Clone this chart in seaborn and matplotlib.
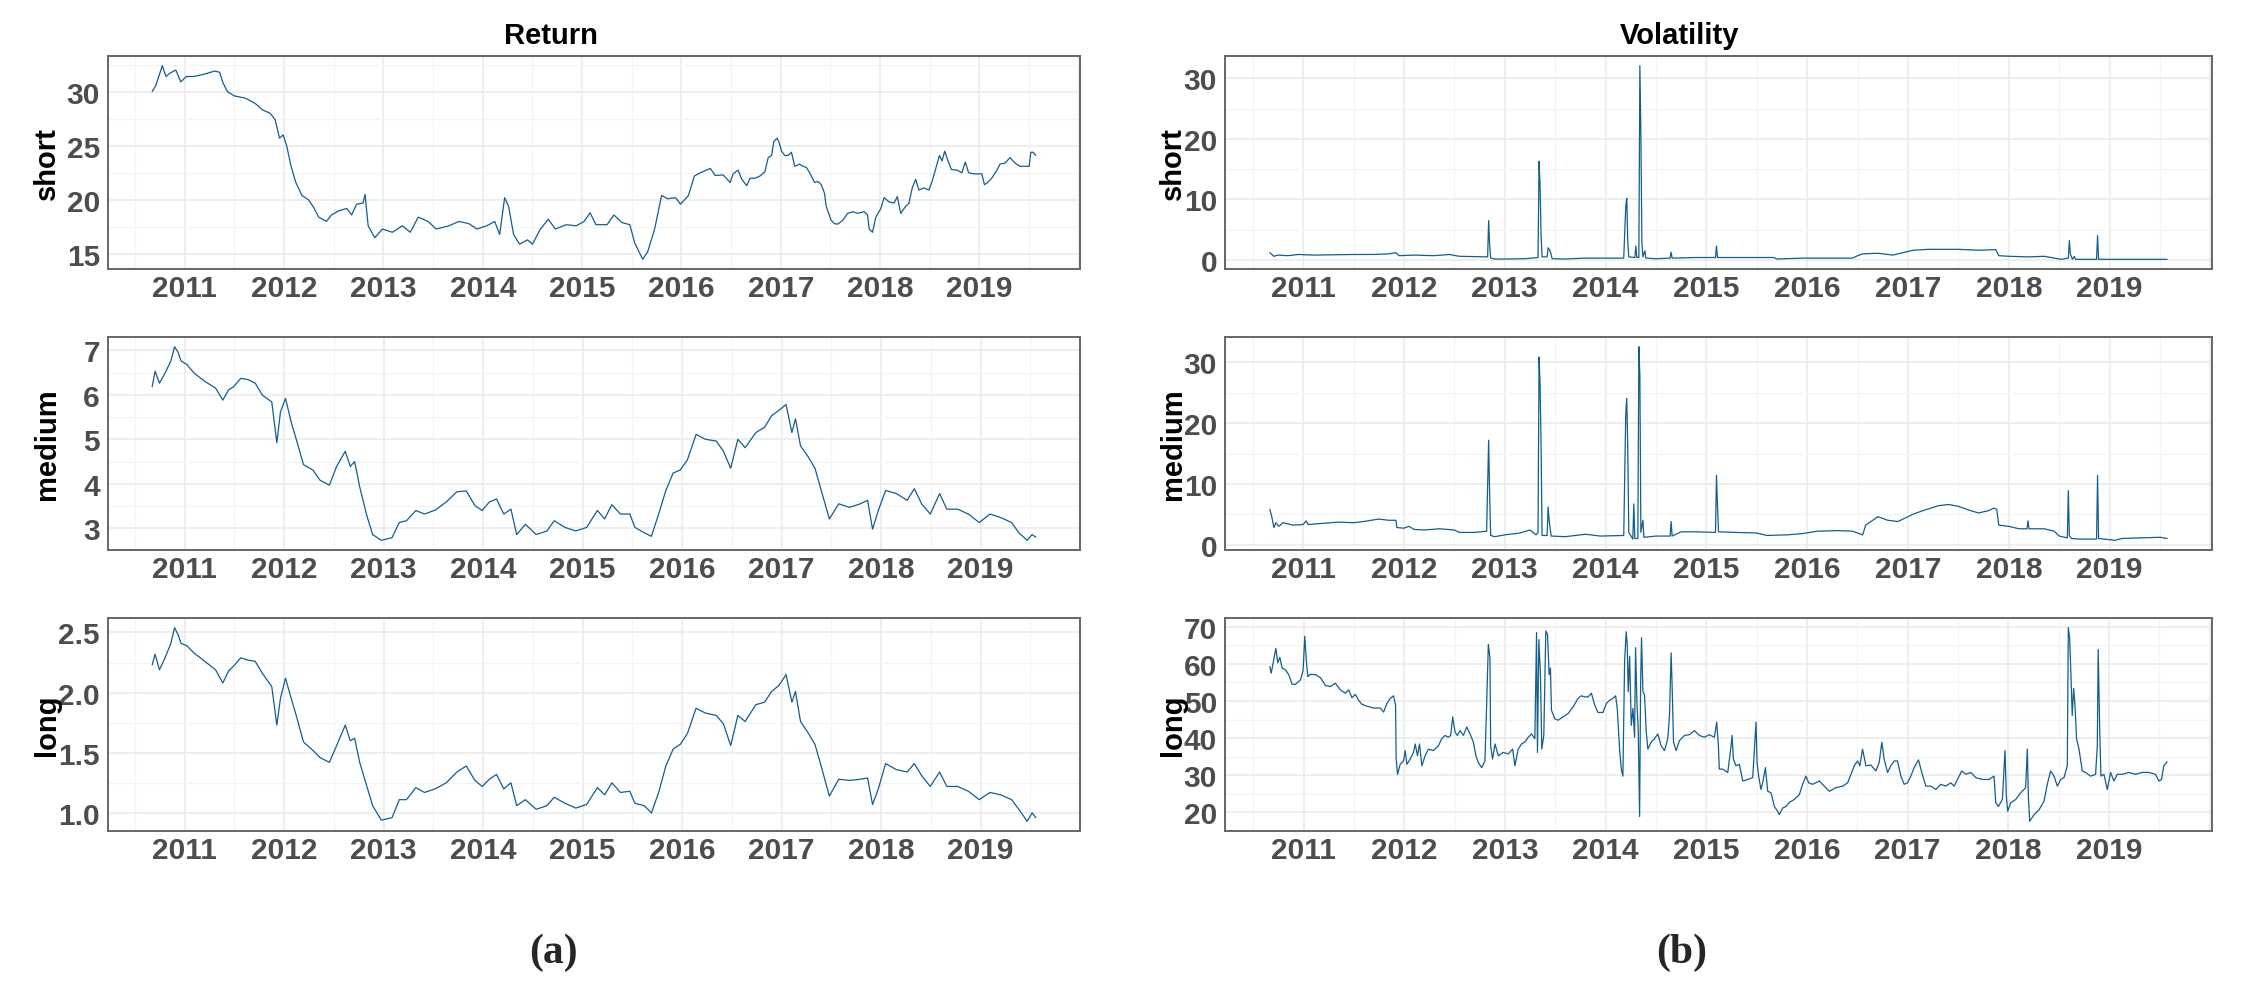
import numpy as np
import pandas as pd
import seaborn as sns
import matplotlib.pyplot as plt
from matplotlib.ticker import MultipleLocator, FormatStrFormatter

# style first, then fonts (set_style resets font.family)
sns.set_style("white")
plt.rcParams['font.family'] = ['Liberation Sans', 'DejaVu Sans']
plt.rcParams['font.weight'] = 'bold'

LINE = '#135e8c'

# ---- Return: short (decimal years / values)
ret_short_t = [2010.672, 2010.708, 2010.774, 2010.81, 2010.85, 2010.91, 2010.96, 2011.015, 2011.09, 2011.19,
               2011.30, 2011.35, 2011.385, 2011.43, 2011.50, 2011.61, 2011.71, 2011.785, 2011.86, 2011.91,
               2011.954, 2011.99, 2012.026, 2012.067, 2012.118, 2012.18, 2012.246, 2012.297, 2012.349, 2012.426,
               2012.477, 2012.554, 2012.63, 2012.68, 2012.73, 2012.795, 2012.815, 2012.846, 2012.913, 2012.99,
               2013.09, 2013.19, 2013.27, 2013.35, 2013.45, 2013.53, 2013.66, 2013.76, 2013.86, 2013.94,
               2014.04, 2014.12, 2014.17, 2014.22, 2014.26, 2014.31, 2014.37, 2014.45, 2014.50, 2014.58,
               2014.66, 2014.73, 2014.84, 2014.94, 2015.02, 2015.08, 2015.14, 2015.25, 2015.32, 2015.40,
               2015.48, 2015.53, 2015.61, 2015.66, 2015.73, 2015.80, 2015.86, 2015.94, 2015.99, 2016.07,
               2016.13,
               2016.19, 2016.29, 2016.34, 2016.42, 2016.49, 2016.52, 2016.57, 2016.607, 2016.657, 2016.69,
               2016.74, 2016.79, 2016.84, 2016.873, 2016.907, 2016.93, 2016.963, 2016.983, 2017.007, 2017.04,
               2017.073, 2017.107, 2017.14, 2017.19, 2017.223, 2017.257, 2017.29, 2017.34, 2017.373, 2017.407,
               2017.44, 2017.457, 2017.507, 2017.54, 2017.573, 2017.623, 2017.673, 2017.723, 2017.773, 2017.84,
               2017.873, 2017.89, 2017.923, 2017.957, 2018.007, 2018.04, 2018.09, 2018.14, 2018.173, 2018.207,
               2018.257, 2018.29, 2018.323, 2018.357, 2018.39, 2018.44, 2018.49, 2018.523, 2018.557, 2018.597,
               2018.623, 2018.65, 2018.683, 2018.717, 2018.773, 2018.823, 2018.857, 2018.89, 2018.94, 2018.99,
               2019.023, 2019.05, 2019.083, 2019.123, 2019.173, 2019.207, 2019.257, 2019.307, 2019.357, 2019.407,
               2019.457, 2019.50, 2019.517, 2019.54, 2019.567]
ret_short_v = [30.0, 30.56, 32.4, 31.4, 31.7, 32.0, 30.9, 31.4, 31.4, 31.6,
               31.9, 31.8, 30.8, 30.0, 29.6, 29.4, 28.9, 28.3, 28.0, 27.4,
               25.7, 26.0, 25.0, 23.2, 21.6, 20.4, 20.0, 19.3, 18.4, 18.0,
               18.6, 19.0, 19.2, 18.6, 19.6, 19.7, 20.5, 17.6, 16.5, 17.3,
               17.0, 17.6, 17.0, 18.4, 18.0, 17.3, 17.6, 18.0, 17.8, 17.3,
               17.6, 18.0, 16.8, 20.2, 19.4, 16.8, 15.9, 16.3, 15.9, 17.3,
               18.2, 17.3, 17.7, 17.6, 18.0, 18.8, 17.7, 17.7, 18.6, 17.9,
               17.7, 16.0, 14.5, 15.2, 17.3, 20.4, 20.1, 20.2, 19.6, 20.4,
               22.2,
               22.5, 22.9, 22.25, 22.3, 21.6, 22.4, 22.75, 21.9, 21.3, 22.0,
               22.0, 22.2, 22.6, 23.9, 24.1, 25.4, 25.7, 25.3, 24.5, 24.1,
               24.1, 24.4, 23.1, 23.3, 23.1, 23.0, 22.5, 21.6, 21.7, 21.4,
               20.6, 19.4, 18.1, 17.8, 17.75, 18.1, 18.75, 18.9, 18.75, 18.9,
               18.6, 17.3, 17.0, 18.4, 19.2, 20.2, 19.8, 19.7, 20.3, 18.75,
               19.4, 19.7, 21.1, 21.9, 20.9, 21.1, 20.9, 21.7, 22.8, 24.1,
               23.6, 24.5, 23.6, 22.8, 22.75, 22.5, 23.5, 22.5, 22.4, 22.4,
               22.4, 21.4, 21.6, 22.0, 22.7, 23.3, 23.4, 23.9, 23.4, 23.1,
               23.1, 23.1, 24.4, 24.4, 24.1]

# ---- Return: medium and long (read at the same dates)
ret_ml_t = [2010.674, 2010.703, 2010.747, 2010.804, 2010.862, 2010.899, 2010.935, 2010.964, 2011.022, 2011.094,
            2011.203, 2011.311, 2011.384, 2011.442, 2011.492, 2011.565, 2011.637, 2011.710, 2011.782, 2011.876,
            2011.927, 2011.963, 2012.014, 2012.072, 2012.122, 2012.195, 2012.289, 2012.361, 2012.455, 2012.528,
            2012.615, 2012.665, 2012.709, 2012.760, 2012.832, 2012.890, 2012.977, 2013.085, 2013.158, 2013.230,
            2013.324, 2013.411, 2013.520, 2013.629, 2013.737, 2013.831, 2013.918, 2013.991, 2014.063, 2014.135,
            2014.208, 2014.280, 2014.338, 2014.425, 2014.534, 2014.642, 2014.715, 2014.823, 2014.932, 2015.041,
            2015.149, 2015.222, 2015.294, 2015.381, 2015.475, 2015.526, 2015.620, 2015.692, 2015.765, 2015.837,
            2015.910, 2015.982, 2016.054, 2016.141, 2016.235, 2016.344, 2016.416, 2016.489, 2016.561, 2016.634,
            2016.742, 2016.829, 2016.901, 2016.974, 2017.046, 2017.104, 2017.140, 2017.191, 2017.264, 2017.336,
            2017.408, 2017.481, 2017.575, 2017.683, 2017.792, 2017.865, 2017.915, 2017.973, 2018.046, 2018.154,
            2018.263, 2018.335, 2018.408, 2018.495, 2018.589, 2018.661, 2018.770, 2018.878, 2018.987, 2019.096,
            2019.204, 2019.313, 2019.385, 2019.469, 2019.519, 2019.556]
ret_medium_v = [6.18, 6.53, 6.26, 6.49, 6.76, 7.08, 6.95, 6.76, 6.68, 6.49,
                6.30, 6.15, 5.88, 6.11, 6.18, 6.37, 6.34, 6.26, 5.99, 5.84,
                4.92, 5.61, 5.92, 5.38, 5.00, 4.43, 4.31, 4.08, 3.97, 4.39,
                4.73, 4.39, 4.50, 3.93, 3.28, 2.86, 2.73, 2.79, 3.13, 3.17,
                3.40, 3.32, 3.41, 3.59, 3.82, 3.84, 3.51, 3.40, 3.59, 3.66,
                3.32, 3.43, 2.86, 3.09, 2.86, 2.94, 3.17, 3.02, 2.94, 3.02,
                3.40, 3.21, 3.53, 3.32, 3.32, 3.02, 2.90, 2.82, 3.32, 3.85,
                4.24, 4.31, 4.54, 5.11, 5.00, 4.96, 4.73, 4.35, 5.00, 4.81,
                5.15, 5.27, 5.53, 5.65, 5.78, 5.15, 5.46, 4.85, 4.62, 4.35,
                3.78, 3.21, 3.55, 3.47, 3.55, 3.63, 2.98, 3.40, 3.85, 3.78,
                3.63, 3.89, 3.55, 3.32, 3.78, 3.43, 3.43, 3.32, 3.13, 3.32,
                3.24, 3.13, 2.90, 2.73, 2.86, 2.80]
ret_long_v = [2.23, 2.32, 2.19, 2.29, 2.41, 2.54, 2.48, 2.41, 2.39, 2.33,
              2.26, 2.19, 2.08, 2.18, 2.22, 2.29, 2.27, 2.26, 2.16, 2.05,
              1.73, 1.95, 2.12, 1.95, 1.81, 1.59, 1.52, 1.46, 1.42, 1.56,
              1.73, 1.60, 1.62, 1.42, 1.22, 1.06, 0.94, 0.96, 1.11, 1.11,
              1.21, 1.17, 1.20, 1.25, 1.34, 1.39, 1.27, 1.22, 1.28, 1.32,
              1.20, 1.25, 1.06, 1.11, 1.03, 1.06, 1.13, 1.08, 1.04, 1.07,
              1.21, 1.15, 1.25, 1.17, 1.18, 1.08, 1.06, 1.00, 1.17, 1.39,
              1.53, 1.57, 1.66, 1.87, 1.83, 1.81, 1.74, 1.56, 1.81, 1.76,
              1.90, 1.92, 2.01, 2.06, 2.15, 1.92, 2.01, 1.76, 1.67, 1.57,
              1.36, 1.14, 1.28, 1.27, 1.28, 1.29, 1.07, 1.20, 1.41, 1.36,
              1.34, 1.41, 1.31, 1.22, 1.34, 1.22, 1.22, 1.18, 1.11, 1.17,
              1.15, 1.11, 1.03, 0.93, 1.00, 0.96]

# ---- Volatility: short
vol_short_t = [2010.67, 2010.69, 2010.71, 2010.75, 2010.85, 2010.95, 2011.1, 2011.3, 2011.5, 2011.7,
               2011.85, 2011.92, 2011.95, 2012.1, 2012.3, 2012.45, 2012.55, 2012.7, 2012.83, 2012.84,
               2012.85, 2012.86, 2012.9, 2013.0, 2013.2, 2013.33, 2013.34, 2013.35, 2013.36, 2013.37,
               2013.42, 2013.43, 2013.45, 2013.47, 2013.6, 2013.8, 2014.0, 2014.18, 2014.2, 2014.21,
               2014.22, 2014.23, 2014.29, 2014.30, 2014.31, 2014.33, 2014.34, 2014.35, 2014.36, 2014.37,
               2014.39, 2014.4, 2014.5, 2014.64, 2014.65, 2014.66, 2014.9, 2015.09, 2015.1, 2015.11,
               2015.4, 2015.67, 2015.7, 2015.95, 2016.2, 2016.45, 2016.5, 2016.55, 2016.7, 2016.85,
               2016.95, 2017.05, 2017.2, 2017.5, 2017.7, 2017.87, 2017.9, 2018.0, 2018.2, 2018.35,
               2018.45, 2018.52, 2018.59, 2018.6, 2018.61, 2018.63, 2018.65, 2018.66, 2018.87, 2018.88,
               2018.89, 2019.2, 2019.57]
vol_short_v = [1.2, 0.9, 0.6, 0.8, 0.7, 0.9, 0.8, 0.85, 0.9, 0.9,
               1.0, 1.2, 0.7, 0.8, 0.7, 0.9, 0.6, 0.55, 0.5, 6.5,
               2.5, 0.3, 0.15, 0.15, 0.2, 0.4, 16.3, 12.5, 4.0, 0.5,
               0.5, 2.0, 1.5, 0.2, 0.15, 0.3, 0.3, 0.3, 8.8, 10.2,
               3.0, 0.5, 0.4, 2.3, 0.4, 0.4, 32.1, 21.0, 3.0, 0.5,
               1.5, 0.3, 0.2, 0.3, 1.3, 0.3, 0.4, 0.4, 2.3, 0.4,
               0.4, 0.4, 0.15, 0.3, 0.3, 0.3, 0.7, 1.0, 1.1, 0.8,
               1.2, 1.6, 1.75, 1.75, 1.6, 1.7, 0.7, 0.6, 0.5, 0.6,
               0.3, 0.1, 0.3, 3.2, 1.0, 0.1, 0.6, 0.1, 0.1, 4.0,
               0.1, 0.1, 0.1]

# ---- Volatility: medium
vol_medium_t = [2010.67, 2010.69, 2010.71, 2010.73, 2010.76, 2010.8, 2010.9, 2011.0, 2011.03, 2011.05,
                2011.2, 2011.35, 2011.5, 2011.6, 2011.75, 2011.85, 2011.92, 2011.93, 2012.0, 2012.05,
                2012.1, 2012.2, 2012.35, 2012.5, 2012.55, 2012.7, 2012.82, 2012.84, 2012.85, 2012.86,
                2012.9, 2013.0, 2013.15, 2013.25, 2013.31, 2013.33, 2013.34, 2013.35, 2013.36, 2013.37,
                2013.42, 2013.43, 2013.44, 2013.46, 2013.6, 2013.8, 2013.95, 2014.18, 2014.2, 2014.21,
                2014.22, 2014.23, 2014.27, 2014.28, 2014.29, 2014.32, 2014.33, 2014.34, 2014.35, 2014.37,
                2014.38, 2014.5, 2014.64, 2014.65, 2014.66, 2014.75, 2014.9, 2015.09, 2015.1, 2015.11,
                2015.12, 2015.3, 2015.5, 2015.6, 2015.8, 2015.95, 2016.1, 2016.3, 2016.45, 2016.55,
                2016.58, 2016.65, 2016.7, 2016.8, 2016.9, 2016.95, 2017.05, 2017.15, 2017.3, 2017.4,
                2017.5, 2017.6, 2017.7, 2017.8, 2017.85, 2017.88, 2017.9, 2018.0, 2018.1, 2018.18,
                2018.19, 2018.2, 2018.35, 2018.45, 2018.5, 2018.58, 2018.59, 2018.6, 2018.62, 2018.7,
                2018.87, 2018.88, 2018.89, 2019.0, 2019.05, 2019.12, 2019.3, 2019.5, 2019.57]
vol_medium_v = [5.8, 4.5, 2.8, 3.6, 3.0, 3.6, 3.2, 3.3, 3.9, 3.3,
                3.5, 3.7, 3.6, 3.8, 4.2, 4.0, 4.0, 2.8, 2.7, 3.0,
                2.5, 2.4, 2.6, 2.4, 2.0, 2.0, 2.2, 17.2, 8.2, 1.5,
                1.3, 1.6, 1.9, 2.4, 1.6, 2.0, 30.9, 26.5, 16.5, 1.5,
                1.5, 6.2, 4.0, 1.4, 1.3, 1.7, 1.4, 1.5, 21.5, 24.1,
                15.8, 2.0, 0.9, 6.7, 1.0, 1.0, 32.6, 27.8, 2.0, 4.0,
                1.2, 1.4, 1.4, 3.8, 1.4, 2.1, 2.1, 2.0, 11.4, 6.5,
                2.1, 2.0, 1.9, 1.5, 1.6, 1.8, 2.2, 2.3, 2.2, 1.6,
                3.2, 4.0, 4.6, 4.0, 3.8, 4.2, 5.0, 5.6, 6.4, 6.6,
                6.3, 5.7, 5.2, 5.6, 6.0, 5.8, 3.2, 3.0, 2.6, 2.6,
                3.9, 2.6, 2.6, 2.2, 1.4, 1.1, 8.9, 1.5, 1.0, 0.9,
                0.9, 11.4, 1.0, 0.8, 0.7, 1.0, 1.1, 1.2, 1.0]

# ---- Volatility: long
vol_long_t = [2010.663, 2010.676, 2010.696, 2010.722, 2010.742, 2010.762, 2010.785, 2010.818, 2010.851, 2010.884,
              2010.917, 2010.967, 2010.993, 2011.010, 2011.026, 2011.040, 2011.066, 2011.116, 2011.165, 2011.215,
              2011.264, 2011.314, 2011.363, 2011.413, 2011.446, 2011.479, 2011.512, 2011.545, 2011.578, 2011.628,
              2011.694, 2011.760, 2011.793, 2011.826, 2011.859, 2011.892, 2011.912, 2011.918, 2011.932, 2011.958,
              2011.991, 2012.008, 2012.024, 2012.057, 2012.090, 2012.107, 2012.130, 2012.150, 2012.173, 2012.206,
              2012.239, 2012.288, 2012.338, 2012.371, 2012.404, 2012.437, 2012.460, 2012.480, 2012.503, 2012.526,
              2012.553, 2012.586, 2012.619, 2012.652, 2012.685, 2012.711, 2012.734, 2012.767, 2012.800, 2012.817,
              2012.834, 2012.850, 2012.857, 2012.876, 2012.900, 2012.933, 2012.982, 2013.032, 2013.075, 2013.098,
              2013.131, 2013.164, 2013.197, 2013.230, 2013.263, 2013.296, 2013.313, 2013.322, 2013.336, 2013.352,
              2013.365, 2013.385, 2013.405, 2013.422, 2013.438, 2013.451, 2013.461, 2013.494, 2013.527, 2013.577,
              2013.626, 2013.676, 2013.725, 2013.758, 2013.792, 2013.825, 2013.858, 2013.891, 2013.924, 2013.973,
              2014.006, 2014.039, 2014.072, 2014.099, 2014.115, 2014.138, 2014.155, 2014.171, 2014.188, 2014.204,
              2014.214, 2014.224, 2014.238, 2014.254, 2014.271, 2014.287, 2014.297, 2014.310, 2014.323, 2014.337,
              2014.347, 2014.356, 2014.370, 2014.386, 2014.403, 2014.419, 2014.452, 2014.485, 2014.518, 2014.551,
              2014.584, 2014.617, 2014.634, 2014.650, 2014.660, 2014.674, 2014.700, 2014.733, 2014.783, 2014.832,
              2014.882, 2014.931, 2014.981, 2015.030, 2015.080, 2015.103, 2015.120, 2015.129,
              2015.163, 2015.213, 2015.246, 2015.256, 2015.269, 2015.295, 2015.328, 2015.362, 2015.411, 2015.461,
              2015.494, 2015.504, 2015.520, 2015.543, 2015.560, 2015.587, 2015.610, 2015.643, 2015.676, 2015.709,
              2015.725, 2015.759, 2015.792, 2015.825, 2015.874, 2015.924, 2015.957, 2015.990, 2016.017, 2016.056,
              2016.089, 2016.122, 2016.172, 2016.222, 2016.288, 2016.354, 2016.404, 2016.437, 2016.470, 2016.503,
              2016.526, 2016.552, 2016.586, 2016.635, 2016.685, 2016.718, 2016.744, 2016.767, 2016.801, 2016.834,
              2016.867, 2016.900, 2016.933, 2016.966, 2016.999, 2017.032, 2017.065, 2017.108, 2017.141, 2017.181,
              2017.231, 2017.280, 2017.330, 2017.379, 2017.429, 2017.462, 2017.495, 2017.538, 2017.578, 2017.628,
              2017.677, 2017.743, 2017.809, 2017.859, 2017.876, 2017.902, 2017.942, 2017.968, 2017.981, 2017.995,
              2018.024, 2018.074, 2018.124, 2018.173, 2018.190, 2018.200, 2018.213, 2018.256, 2018.306, 2018.355,
              2018.388, 2018.421, 2018.455, 2018.488, 2018.521, 2018.554, 2018.587, 2018.597, 2018.610, 2018.623,
              2018.636, 2018.650, 2018.663, 2018.679, 2018.703, 2018.736, 2018.769, 2018.818, 2018.868, 2018.885,
              2018.894, 2018.908, 2018.921, 2018.951, 2018.984, 2019.017, 2019.050, 2019.083, 2019.133, 2019.199,
              2019.265, 2019.331, 2019.397, 2019.463, 2019.497, 2019.523, 2019.546, 2019.579]
vol_long_v = [59.3, 57.5, 60.3, 64.2, 60.3, 61.8, 58.9, 58.4, 57.1, 54.5,
              54.5, 55.7, 58.2, 67.5, 60.7, 56.6, 57.2, 57.1, 56.3, 54.2,
              53.9, 54.8, 53.0, 52.1, 53.0, 50.9, 51.8, 50.2, 49.1, 48.6,
              48.1, 48.1, 47.0, 49.3, 50.7, 51.4, 48.9, 34.3, 30.2, 32.9,
              33.8, 36.6, 32.9, 34.3, 36.1, 38.4, 35.2, 38.4, 32.5, 35.2,
              37.0, 36.6, 37.9, 39.8, 40.7, 40.2, 40.7, 45.7, 41.6, 40.7,
              42.0, 40.7, 43.0, 41.1, 38.9, 35.2, 33.4, 32.0, 33.8, 48.9,
              65.3, 61.6, 37.9, 34.3, 38.4, 35.2, 36.1, 35.7, 37.0, 32.5,
              37.0, 38.4, 38.9, 40.2, 41.1, 39.8, 68.5, 36.1, 66.6, 57.1,
              37.0, 40.7, 68.9, 68.0, 57.1, 58.9, 47.5, 45.2, 44.8, 45.7,
              46.6, 48.4, 50.7, 51.4, 51.1, 51.1, 52.1, 48.9, 46.9, 46.9,
              49.3, 50.2, 50.7, 51.4, 48.0, 37.0, 31.6, 29.7, 60.7, 68.7,
              65.3, 52.5, 62.1, 43.4, 48.0, 40.2, 64.4, 49.8, 42.5, 18.8,
              54.3, 67.1, 52.5, 51.6, 41.6, 37.0, 38.9, 39.8, 41.1, 37.9,
              36.6, 39.8, 46.1, 63.0, 54.3, 38.9, 36.6, 39.3, 40.7, 40.9,
              42.0, 40.7, 40.2, 40.9, 40.2, 44.3, 37.9, 31.6,
              31.6, 30.7, 37.9, 40.7, 34.3, 32.5, 32.9, 28.4, 28.8, 29.3,
              44.3, 33.4, 29.7, 26.1, 27.9, 32.0, 25.6, 25.2, 21.5, 20.2,
              19.3, 21.1, 21.5, 22.6, 23.4, 24.7, 27.5, 29.7, 27.9, 27.5,
              27.9, 28.4, 27.0, 25.6, 26.6, 27.0, 27.9, 30.2, 32.5, 33.8,
              32.5, 37.0, 32.5, 32.7, 31.1, 33.4, 38.9, 34.3, 30.7, 32.5,
              33.8, 33.8, 29.7, 27.5, 27.9, 29.7, 32.0, 34.1, 30.7, 27.0,
              27.0, 26.1, 27.5, 27.0, 27.9, 27.0, 28.8, 31.1, 30.2, 30.7,
              29.3, 28.8, 28.8, 29.7, 22.5, 21.5, 23.4, 36.6, 24.3, 20.2,
              22.5, 23.4, 25.2, 26.6, 37.0, 24.3, 17.5, 19.3, 20.6, 22.9,
              27.5, 31.1, 29.7, 27.0, 28.8, 29.3, 32.5, 69.8, 67.1, 57.1,
              46.1, 53.4, 48.9, 39.8, 37.0, 31.1, 30.7, 29.7, 30.2, 37.9,
              63.9, 43.4, 29.7, 30.2, 26.1, 30.7, 28.4, 30.2, 30.2, 30.7,
              30.2, 30.7, 30.7, 30.2, 28.4, 28.8, 32.5, 33.6]

year_ticks = list(range(2011, 2021))
year_labels = [str(y) for y in range(2011, 2020)] + ['']

# panel layout in pixels (figure is 2254 x 995)
W, H = 2254, 995
col_x = [(108, 972), (1225, 987)]
row_top = [57, 338, 619]
ph = 213

panels = [
    # col, row, t, v, ylabel, major step, tick format
    (0, 0, ret_short_t, ret_short_v, 'short', 5, '%d'),
    (0, 1, ret_ml_t, ret_medium_v, 'medium', 1, '%d'),
    (0, 2, ret_ml_t, ret_long_v, 'long', 0.5, '%.1f'),
    (1, 0, vol_short_t, vol_short_v, 'short', 10, '%d'),
    (1, 1, vol_medium_t, vol_medium_v, 'medium', 10, '%d'),
    (1, 2, vol_long_t, vol_long_v, 'long', 10, '%d'),
]
label_x = [-0.063, -0.053]

fig = plt.figure(figsize=(W / 100, H / 100), dpi=100)

for col, row, t, v, name, step, fmt in panels:
    x0, w = col_x[col]
    top = row_top[row]
    ax = fig.add_axes([x0 / W, 1 - (top + ph) / H, w / W, ph / H])
    df = pd.DataFrame({'date': t, 'value': v})
    sns.lineplot(data=df, x='date', y='value', ax=ax, color=LINE,
                 linewidth=0.9, estimator=None, sort=False)
    ax.margins(x=0.05, y=0.05)

    ax.set_xticks(year_ticks)
    ax.set_xticklabels(year_labels)
    ax.xaxis.set_minor_locator(MultipleLocator(0.5))
    ax.yaxis.set_major_locator(MultipleLocator(step))
    ax.yaxis.set_minor_locator(MultipleLocator(step / 2))
    ax.yaxis.set_major_formatter(FormatStrFormatter(fmt))

    ax.grid(which='major', color='#EBEBEB', linewidth=1.2)
    ax.grid(which='minor', color='#F3F3F3', linewidth=0.8)
    ax.set_axisbelow(True)

    ax.tick_params(which='major', length=2.7, width=1, color='#333333',
                   labelsize=21.5, labelcolor='#4D4D4D')
    ax.tick_params(axis='x', which='major', pad=0.8)
    ax.tick_params(axis='y', which='major', pad=3)
    ax.tick_params(which='minor', length=0)
    for s in ax.spines.values():
        s.set_color('#666666')
        s.set_linewidth(1.4)

    ax.set_xlabel('')
    ax.set_ylabel(name, fontsize=21, fontweight='bold', color='black', va='center')
    ax.yaxis.set_label_coords(label_x[col], 0.5)

fig.text(551 / W, 1 - 44 / H, 'Return', ha='center', va='baseline',
         fontsize=21, fontweight='bold', color='black')
fig.text(1680 / W, 1 - 44 / H, 'Volatility', ha='center', va='baseline',
         fontsize=21, fontweight='bold', color='black')

fig.text(553 / W, 1 - 953 / H, '(a)', ha='center', va='center', fontsize=30,
         fontweight='bold', family=['Liberation Serif', 'DejaVu Serif'])
fig.text(1682 / W, 1 - 953 / H, '(b)', ha='center', va='center', fontsize=30,
         fontweight='bold', family=['Liberation Serif', 'DejaVu Serif'])

fig.savefig('out.png', dpi=100)
